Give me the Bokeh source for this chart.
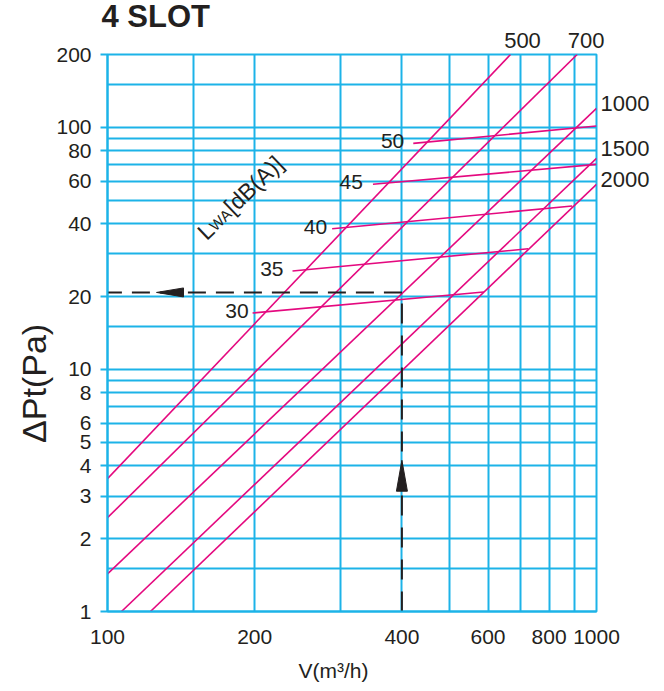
import numpy as np
from bokeh.plotting import figure
from bokeh.models import FixedTicker, NumeralTickFormatter, Label, LogAxis
from bokeh.embed import file_html
from bokeh.resources import INLINE

# Slot length lines (mm): pressure drop vs air volume, given by their two end points
slot_lengths = ["500", "700", "1000", "1500", "2000"]
slot_v_start = [100, 100, 100, 106.8, 122.4]
slot_dp_start = [3.54, 2.44, 1.43, 1.0, 1.0]
slot_v_end = [667, 913, 1000, 1000, 1000]
slot_dp_end = [200, 200, 119.8, 74.5, 58.2]

# Sound power level lines LWA [dB(A)]
lwa_levels = ["30", "35", "40", "45", "50"]
lwa_v_start = [198, 239, 288, 349, 422]
lwa_dp_start = [17.1, 25.5, 38.1, 58.2, 85.9]
lwa_v_end = [588, 725, 892, 1000, 1000]
lwa_dp_end = [20.9, 31.5, 47.3, 70.3, 101.3]

# Worked reading example
example_v = 400
example_dp = 20.8

# Axes
x_ticks = [100, 200, 400, 600, 800, 1000]
y_ticks = [1, 2, 3, 4, 5, 6, 8, 10, 20, 40, 60, 80, 100, 200]
x_grid = [100, 150, 200, 300, 400, 500, 600, 700, 800, 900, 1000]
y_grid = [1, 1.5, 2, 3, 4, 5, 6, 7, 8, 9, 10, 15, 20, 30, 40, 50, 60, 70, 80, 90,
          100, 150, 200]

CYAN = "#1cb3e8"
MAGENTA = "#e4097f"
INK = "#231f20"
FONT = "Liberation Sans"

W, H = 664, 691
BL, BR, BT, BB = 107, 68, 53, 80
X_RANGE = (100, 1000)
Y_RANGE = (1, 200)
PX_DEC_X = (W - BL - BR) / np.log10(X_RANGE[1] / X_RANGE[0])
PX_DEC_Y = (H - BT - BB) / np.log10(Y_RANGE[1] / Y_RANGE[0])


def shift_x(v, px):
    return v * 10 ** (px / PX_DEC_X)


def shift_y(v, px):
    return v * 10 ** (px / PX_DEC_Y)


p = figure(width=W, height=H, x_axis_type="log", y_axis_type="log",
           x_range=X_RANGE, y_range=Y_RANGE, output_backend="svg",
           toolbar_location=None, min_border_left=BL, min_border_right=BR,
           min_border_top=BT, min_border_bottom=BB, title="4 SLOT")

p.background_fill_color = "white"
p.border_fill_color = "white"
p.outline_line_color = CYAN
p.outline_line_width = 2

p.title.align = "left"
p.title.offset = -6
p.title.text_font = FONT
p.title.text_font_size = "31px"
p.title.text_font_style = "bold"
p.title.text_color = INK
p.title.standoff = -8

p.xgrid.ticker = FixedTicker(ticks=x_grid)
p.ygrid.ticker = FixedTicker(ticks=y_grid)
p.grid.grid_line_color = CYAN
p.grid.grid_line_width = 2
p.grid.grid_line_alpha = 1.0

p.xaxis.ticker = FixedTicker(ticks=x_ticks)
p.yaxis.ticker = FixedTicker(ticks=y_ticks)
for ax in (p.xaxis[0], p.yaxis[0]):
    ax.formatter = NumeralTickFormatter(format="0")
    ax.axis_line_color = CYAN
    ax.axis_line_width = 2
    ax.major_tick_line_color = CYAN
    ax.major_tick_line_width = 2
    ax.minor_tick_line_color = None
    ax.major_tick_in = 0
    ax.major_label_text_font = FONT
    ax.major_label_text_font_size = "21px"
    ax.major_label_text_color = INK

p.yaxis.major_tick_out = 7
p.yaxis.major_label_standoff = 9
p.xaxis.major_tick_out = 0
p.xaxis.major_tick_line_color = None
p.xaxis.major_label_standoff = 18


def text_axis(ticks, labels, size, standoff, orientation="horizontal"):
    ticks = [round(float(t), 3) for t in ticks]
    return LogAxis(ticker=FixedTicker(ticks=ticks),
                   formatter=NumeralTickFormatter(format="0"),
                   major_label_overrides=dict(zip(ticks, labels)),
                   axis_line_color=None, major_tick_line_color=None,
                   minor_tick_line_color=None, major_tick_in=0, major_tick_out=0,
                   major_label_standoff=standoff, major_label_text_font=FONT,
                   major_label_text_font_size=f"{size}px",
                   major_label_text_color=INK,
                   major_label_orientation=orientation)


# Axis captions placed as single tick labels on extra axes
p.add_layout(text_axis([shift_x(X_RANGE[0], 226)], ["V(m³/h)"], 21, 12), "below")
p.add_layout(text_axis([shift_y(Y_RANGE[0], 228.5)], ["ΔPt(Pa)"], 34, 0,
                       orientation="vertical"), "left")

# Slot length names at the line ends, outside the frame
p.add_layout(text_axis([shift_x(slot_v_end[0], 12), shift_x(slot_v_end[1], 9)],
                       slot_lengths[:2], 22, 7), "above")
p.add_layout(text_axis([shift_y(slot_dp_end[2], 5), shift_y(slot_dp_end[3], 10),
                        shift_y(slot_dp_end[4], 5)],
                       slot_lengths[2:], 22, 4), "right")

# Slot length lines
for vs, ds, ve, de in zip(slot_v_start, slot_dp_start, slot_v_end, slot_dp_end):
    p.line([vs, ve], [ds, de], line_color=MAGENTA, line_width=1.6)

# Sound level lines
for vs, ds, ve, de in zip(lwa_v_start, lwa_dp_start, lwa_v_end, lwa_dp_end):
    p.line([vs, ve], [ds, de], line_color=MAGENTA, line_width=1.6)

# Reading example: dashed guides with arrow heads
p.line([example_v, example_v], [Y_RANGE[0], example_dp], line_color=INK,
       line_width=2, line_dash="20 12")
p.line([example_v, X_RANGE[0]], [example_dp, example_dp], line_color=INK,
       line_width=2, line_dash="18 10")

tip_x = shift_x(X_RANGE[0], 49)
p.patch([tip_x, shift_x(tip_x, 27), shift_x(tip_x, 27)],
        [example_dp, shift_y(example_dp, 4.5), shift_y(example_dp, -4.5)],
        fill_color=INK, line_color=INK, line_width=1)
tip_y = shift_y(Y_RANGE[0], 151.5)
p.patch([example_v, shift_x(example_v, -5.5), shift_x(example_v, 5.5)],
        [tip_y, shift_y(tip_y, -31), shift_y(tip_y, -31)],
        fill_color=INK, line_color=INK, line_width=1)


def add_text(x, y, text, size, dx=0, dy=0, align="left", baseline="middle",
             angle=0.0):
    p.add_layout(Label(x=x, y=y, x_offset=dx, y_offset=dy, text=text,
                       text_font=FONT, text_font_size=f"{size}px",
                       text_color=INK, text_align=align,
                       text_baseline=baseline, angle=angle))


# Sound level labels at line starts
lwa_label_dx = [-4, -9, -5, -10, -9]
for name, vs, ds, dx in zip(lwa_levels, lwa_v_start, lwa_dp_start, lwa_label_dx):
    add_text(vs, ds, name, 21, dx=dx, dy=2, align="right")

# Rotated LWA[dB(A)] caption with subscript
theta = np.deg2rad(44)
cx, cy = shift_x(X_RANGE[0], 93.7), shift_y(Y_RANGE[0], 376.7)
pieces = [("L", 23, 0.0, 0.0), ("WA", 15, 12.8, 2.0), ("[dB(A)]", 23, 37.0, 0.0)]
for txt, size, s, d in pieces:
    add_text(cx, cy, txt, size,
             dx=s * np.cos(theta) + d * np.sin(theta),
             dy=s * np.sin(theta) - d * np.cos(theta),
             align="left", baseline="alphabetic", angle=theta)

open("out.html", "w").write(file_html(p, INLINE))
